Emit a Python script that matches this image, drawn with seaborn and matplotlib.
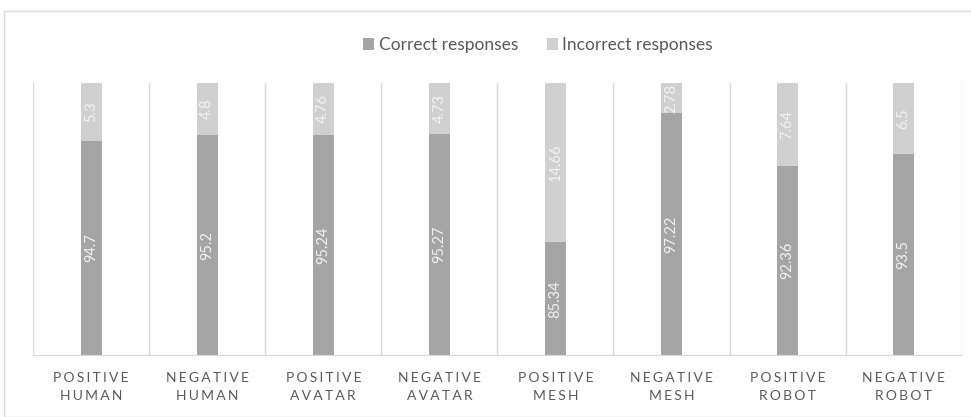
import matplotlib
matplotlib.use("Agg")
import matplotlib.pyplot as plt
import seaborn as sns
import pandas as pd
from matplotlib.patches import Rectangle

# datos
categorias = ["POSITIVE\nHUMAN", "NEGATIVE\nHUMAN", "POSITIVE\nAVATAR", "NEGATIVE\nAVATAR",
              "POSITIVE\nMESH", "NEGATIVE\nMESH", "POSITIVE\nROBOT", "NEGATIVE\nROBOT"]
correctas = [94.7, 95.2, 95.24, 95.27, 85.34, 97.22, 92.36, 93.5]
incorrectas = [5.3, 4.8, 4.76, 4.73, 14.66, 2.78, 7.64, 6.5]
etiq_correctas = ["94.7", "95.2", "95.24", "95.27", "85.34", "97.22", "92.36", "93.5"]
etiq_incorrectas = ["5.3", "4.8", "4.76", "4.73", "14.66", "2.78", "7.64", "6.5"]

sns.set_style("white")
plt.rcParams["font.family"] = ["Lato", "DejaVu Sans"]

col_ok = "#A5A5A5"
col_mal = "#D0D0D0"
gris_txt = "#595959"
gris_lin = "#D9D9D9"
y_min = 75

df = pd.DataFrame({
    "cat": categorias,
    "correct": correctas,
    "total": [c + i for c, i in zip(correctas, incorrectas)],
})

fig = plt.figure(figsize=(9.71, 4.17), dpi=100)
ax = fig.add_axes([0.034, 0.1487, 0.9565, 0.6523])

sns.barplot(data=df, x="cat", y="total", color=col_mal, width=0.18,
            saturation=1, linewidth=0, ax=ax, label="Incorrect responses")
sns.barplot(data=df, x="cat", y="correct", color=col_ok, width=0.18,
            saturation=1, linewidth=0, ax=ax, label="Correct responses")
handles, labels = ax.get_legend_handles_labels()
if ax.get_legend() is not None:
    ax.get_legend().remove()

ax.set_ylim(y_min, 100)
ax.set_xlim(-0.5, len(categorias) - 0.5)

# etiquetas de datos
for i, (c, inc) in enumerate(zip(correctas, incorrectas)):
    ax.text(i, (y_min + c) / 2, etiq_correctas[i], rotation=90, ha="center",
            va="center", color="#F2F2F2", fontsize=10.5)
    ax.text(i, c + inc / 2, etiq_incorrectas[i], rotation=90, ha="center",
            va="center", color="#F2F2F2", fontsize=10.5)

# separadores de categorias
for k in range(len(categorias) + 1):
    ax.axvline(k - 0.5, color=gris_lin, lw=1, zorder=0)

for s in ["top", "right", "left"]:
    ax.spines[s].set_visible(False)
ax.spines["bottom"].set_color(gris_lin)
ax.set_yticks([])
ax.set_xlabel("")
ax.set_ylabel("")
# letras espaciadas como en Excel
espaciado = ["\n".join("\u2006".join(p) for p in c.split("\n")) for c in categorias]
ax.set_xticks(range(len(categorias)))
ax.set_xticklabels(espaciado, color=gris_txt, fontsize=10, linespacing=1.6)
ax.tick_params(axis="x", length=0, pad=12)

orden = [labels.index("Correct responses"), labels.index("Incorrect responses")]
fig.legend([handles[j] for j in orden], [labels[j] for j in orden],
           loc="center", bbox_to_anchor=(0.554, 0.892), ncol=2, frameon=False,
           fontsize=12.5, labelcolor=gris_txt, handlelength=0.63, handleheight=0.63,
           handletextpad=0.25, columnspacing=1.65)

# marco exterior
fig.patches.append(Rectangle((4 / 971, 0), 1.2, 1 - 11 / 417, transform=fig.transFigure,
                             fill=False, edgecolor=gris_lin, lw=1))

fig.savefig("out.png", dpi=100)
